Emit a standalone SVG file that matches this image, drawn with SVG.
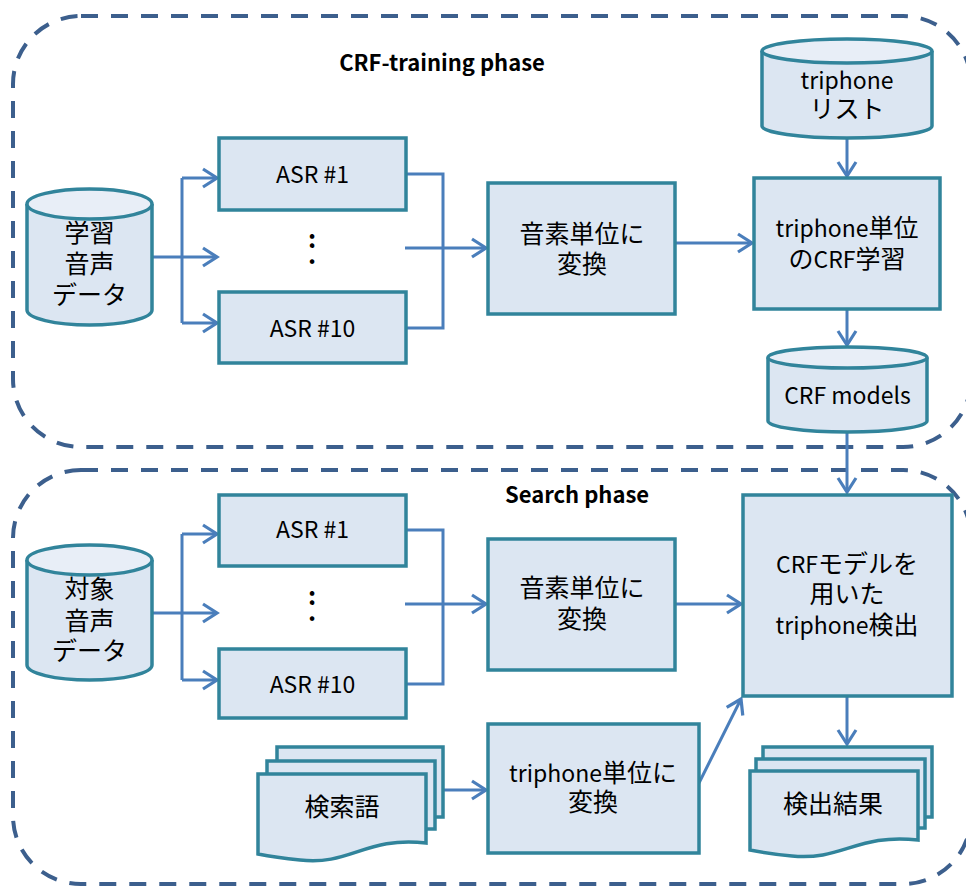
<svg xmlns="http://www.w3.org/2000/svg" width="966" height="886" viewBox="0 0 966 886">
  <defs>
    <marker id="arrow" markerUnits="userSpaceOnUse" markerWidth="22" markerHeight="26" viewBox="-18 -13 22 26" refX="0" refY="0" orient="auto">
      <path d="M-14,-9 L0,0 L-14,9" fill="none" stroke="#4a7ebb" stroke-width="3.2" stroke-linejoin="miter"/>
    </marker>
  </defs>
  <style>
    .phase { fill: none; stroke: #3c5f8d; stroke-width: 4; stroke-dasharray: 17 13; }
    .box { fill: #dce6f2; stroke: #31849b; stroke-width: 3.5; }
    .cap { fill: #e8eef7; stroke: #31849b; stroke-width: 3.5; }
    .conn path { fill: none; stroke: #4a7ebb; stroke-width: 3; }
    .lbl { font-family: "Noto Sans CJK JP", "Liberation Sans", sans-serif; font-size: 25px; fill: #000; text-anchor: middle; }
    .en { font-size: 23px; }
    .dots { font-family: "Noto Sans CJK JP", "Liberation Sans", sans-serif; font-size: 25px; font-weight: bold; fill: #000; text-anchor: middle; }
    .title { font-family: "Noto Sans CJK JP", "Liberation Sans", sans-serif; font-size: 22px; font-weight: bold; fill: #000; text-anchor: middle; }
  </style>

  <!-- phase frames -->
  <rect class="phase" x="13" y="16" width="958" height="431" rx="68" ry="68"/>
  <rect class="phase" x="13" y="470" width="958" height="414" rx="68" ry="68"/>
  <text class="title" x="442" y="71">CRF-training phase</text>
  <text class="title" x="577" y="503">Search phase</text>

  <!-- connectors -->
  <g class="conn" id="connectors">
    <!-- training phase -->
    <path d="M152,257 H217" marker-end="url(#arrow)"/>
    <path d="M182,178 V323"/>
    <path d="M182,178 H217" marker-end="url(#arrow)"/>
    <path d="M182,323 H217" marker-end="url(#arrow)"/>
    <path d="M406,174 H443 V328 H406"/>
    <path d="M405,248 H486" marker-end="url(#arrow)"/>
    <path d="M675,243 H752" marker-end="url(#arrow)"/>
    <path d="M847,138 V176" marker-end="url(#arrow)"/>
    <path d="M847,309 V345" marker-end="url(#arrow)"/>
    <path d="M847,432 V492" marker-end="url(#arrow)"/>
    <!-- search phase -->
    <path d="M152,613 H217" marker-end="url(#arrow)"/>
    <path d="M182,534 V680"/>
    <path d="M182,534 H217" marker-end="url(#arrow)"/>
    <path d="M182,680 H217" marker-end="url(#arrow)"/>
    <path d="M406,530 H443 V684 H406"/>
    <path d="M405,604 H486" marker-end="url(#arrow)"/>
    <path d="M675,604 H741" marker-end="url(#arrow)"/>
    <path d="M443,790 H486" marker-end="url(#arrow)"/>
    <path d="M699,783 L741,699" marker-end="url(#arrow)"/>
    <path d="M847,696 V744" marker-end="url(#arrow)"/>
  </g>

  <!-- training speech data -->
  <g id="train-data">
    <path class="box" d="M27,204 V310 A62.5,15 0 0 0 152,310 V204"/>
    <ellipse class="cap" cx="89.5" cy="204" rx="62.5" ry="15"/>
    <text class="lbl" x="89.5" y="242">学習<tspan x="89.5" dy="31">音声</tspan><tspan x="89.5" dy="31">データ</tspan></text>
  </g>

  <g id="train-asr1">
    <rect class="box" x="219" y="138" width="187" height="72"/>
    <text class="lbl en" x="312.5" y="183">ASR #1</text>
  </g>
  <text class="dots" id="train-dots" x="312" y="248">:<tspan x="312" dy="16">.</tspan></text>
  <g id="train-asr10">
    <rect class="box" x="219" y="292" width="187" height="71"/>
    <text class="lbl en" x="312.5" y="337">ASR #10</text>
  </g>

  <g id="train-phone">
    <rect class="box" x="488" y="183" width="187" height="131"/>
    <text class="lbl" x="582" y="243">音素単位に<tspan x="582" dy="30">変換</tspan></text>
  </g>

  <g id="triphone-list">
    <path class="box" d="M762,51 V126 A85,12 0 0 0 932,126 V51"/>
    <ellipse class="cap" cx="847" cy="51" rx="85" ry="12"/>
    <text class="lbl" x="847" y="89"><tspan class="en">triphone</tspan><tspan x="847" dy="29">リスト</tspan></text>
  </g>

  <g id="crf-train">
    <rect class="box" x="754" y="178" width="186" height="131"/>
    <text class="lbl" x="847" y="237"><tspan class="en">triphone</tspan>単位<tspan x="847" dy="31">の</tspan><tspan class="en">CRF</tspan>学習</text>
  </g>

  <g id="crf-models">
    <path class="box" d="M768,357.5 V421 A79.5,11 0 0 0 927,421 V357.5"/>
    <ellipse class="cap" cx="847.5" cy="357.5" rx="79.5" ry="10.5"/>
    <text class="lbl en" x="847.5" y="404">CRF models</text>
  </g>

  <!-- search phase -->
  <g id="target-data">
    <path class="box" d="M27,560 V665 A62.5,15 0 0 0 152,665 V560"/>
    <ellipse class="cap" cx="89.5" cy="560" rx="62.5" ry="15"/>
    <text class="lbl" x="89.5" y="598">対象<tspan x="89.5" dy="32">音声</tspan><tspan x="89.5" dy="30">データ</tspan></text>
  </g>

  <g id="search-asr1">
    <rect class="box" x="219" y="495" width="187" height="71"/>
    <text class="lbl en" x="312.5" y="538">ASR #1</text>
  </g>
  <text class="dots" id="search-dots" x="312" y="605">:<tspan x="312" dy="16">.</tspan></text>
  <g id="search-asr10">
    <rect class="box" x="219" y="649" width="187" height="69"/>
    <text class="lbl en" x="312.5" y="693">ASR #10</text>
  </g>

  <g id="search-phone">
    <rect class="box" x="488" y="539" width="187" height="131"/>
    <text class="lbl" x="582" y="597">音素単位に<tspan x="582" dy="31">変換</tspan></text>
  </g>

  <g id="crf-detect">
    <rect class="box" x="743" y="495" width="209" height="201"/>
    <text class="lbl" x="847" y="573"><tspan class="en">CRF</tspan>モデルを<tspan x="847" dy="30">用いた</tspan><tspan x="847" dy="31" class="en">triphone</tspan>検出</text>
  </g>

  <g id="query-terms">
    <rect class="box" x="277" y="747" width="166" height="70"/>
    <rect class="box" x="267" y="761" width="168" height="68"/>
    <path class="box" d="M258,774 H426 V843 C366,836 350,866 300,860 C280,858 268,856 258,854 Z"/>
    <text class="lbl" x="342" y="816">検索語</text>
  </g>

  <g id="triphone-convert">
    <rect class="box" x="488" y="724" width="211" height="129"/>
    <text class="lbl" x="593" y="782"><tspan class="en">triphone</tspan>単位に<tspan x="593" dy="29">変換</tspan></text>
  </g>

  <g id="results">
    <rect class="box" x="763" y="747" width="169" height="70"/>
    <rect class="box" x="756" y="759" width="169" height="69"/>
    <path class="box" d="M750,771 H918 V840 C858,833 842,861 792,856 C772,854 760,852 750,850 Z"/>
    <text class="lbl" x="833" y="813">検出結果</text>
  </g>
</svg>
